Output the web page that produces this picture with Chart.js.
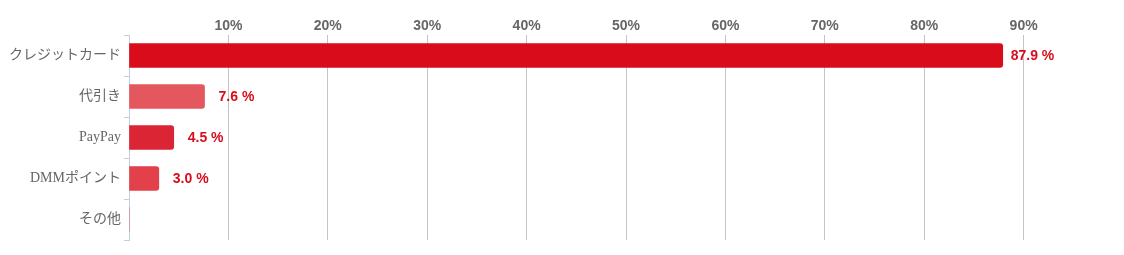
<!DOCTYPE html>
<html>
<head>
<meta charset="utf-8">
<script src="https://cdn.jsdelivr.net/npm/chart.js@4"></script>
<style>
  html, body { margin: 0; padding: 0; background: #fff; }
  #wrap { width: 1124px; height: 255px; }
</style>
</head>
<body>
<div id="wrap"><canvas id="myChart" width="1124" height="255"></canvas></div>
<script>
// データ (支払い方法の割合 %)
let etiquetas = ["クレジットカード", "代引き", "PayPay", "DMMポイント", "その他"];
let valores = [87.9, 7.6, 4.5, 3.0, 0];
let colores = ['#d90c1c', '#e5575f', '#dc2534', '#e2404a', '#e2404a'];
let marcas = [10, 20, 30, 40, 50, 60, 70, 80, 90];

// ラベルを棒の右に描く
let etiquetasValor = {
    id: 'etiquetasValor',
    afterDatasetsDraw(chart) {
        let ctx = chart.ctx;
        let meta = chart.getDatasetMeta(0);
        ctx.save();
        ctx.font = 'bold 14px "Liberation Sans", Arial, sans-serif';
        ctx.fillStyle = '#d90c1c';
        ctx.textBaseline = 'middle';
        ctx.textAlign = 'left';
        meta.data.forEach(function (barra, i) {
            let v = valores[i];
            if (!v) return;
            let separacion = v > 50 ? 8 : 14;
            ctx.fillText(v.toFixed(1) + ' %', barra.x + separacion, barra.y + 1);
        });
        ctx.restore();
    }
};

let grafica = document.getElementById("myChart");

new Chart(grafica, {
    type: "bar",
    data: {
        labels: etiquetas,
        datasets: [{
            data: valores,
            backgroundColor: colores,
            borderRadius: { topRight: 3, bottomRight: 3 },
            borderSkipped: 'start',
            barThickness: 24
        }]
    },
    options: {
        indexAxis: 'y',
        responsive: false,
        animation: false,
        maintainAspectRatio: false,
        layout: { padding: { left: 0, right: 1, top: 0, bottom: 15 } },
        plugins: {
            legend: { display: false },
            tooltip: { enabled: false }
        },
        scales: {
            x: {
                position: 'top',
                min: 0,
                max: 100,
                afterBuildTicks(scale) {
                    scale.ticks = [0].concat(marcas, [100]).map(function (v) { return { value: v }; });
                },
                afterFit(scale) { scale.height = 35; },
                border: { display: false },
                grid: {
                    color: function (c) {
                        return (c.tick.value > 0 && c.tick.value < 100) ? '#c4c4c4' : 'rgba(0,0,0,0)';
                    },
                    drawTicks: false
                },
                ticks: {
                    padding: 0,
                    color: '#666',
                    font: { family: '"Liberation Sans", Arial, sans-serif', size: 14, weight: 'bold' },
                    callback: function (v) { return marcas.includes(v) ? v + '%' : ''; }
                }
            },
            y: {
                afterFit(scale) { scale.width = 129; },
                border: { display: true, color: '#c2d0de', width: 1 },
                grid: {
                    drawOnChartArea: false,
                    color: '#c2d0de',
                    tickLength: 5,
                    offset: true
                },
                ticks: {
                    padding: 3,
                    color: '#666',
                    font: { family: '"Liberation Serif", "Noto Sans CJK JP", serif', size: 14 }
                }
            }
        }
    },
    plugins: [etiquetasValor]
});
</script>
</body>
</html>
